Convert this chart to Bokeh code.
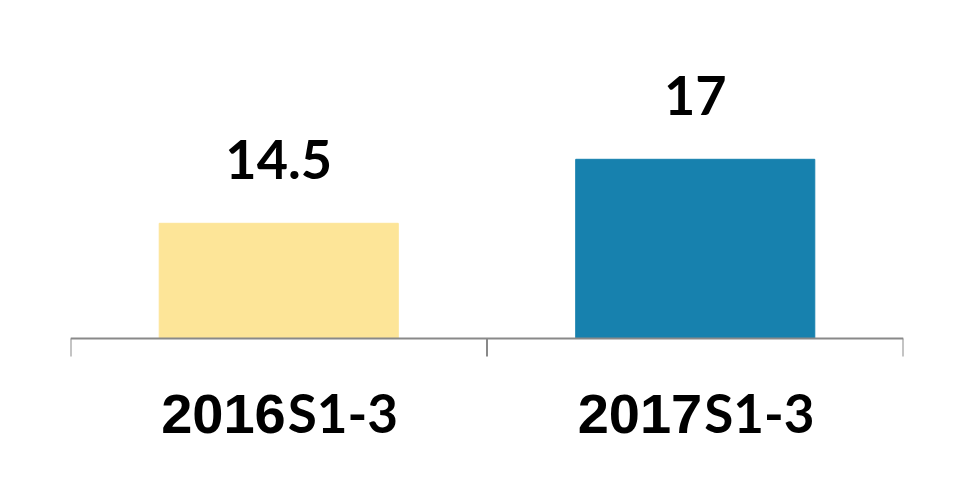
from bokeh.plotting import figure
from bokeh.models import ColumnDataSource, LabelSet, Range1d, Span
from bokeh.core.properties import value
from bokeh.embed import file_html
from bokeh.resources import INLINE

years = ["2016", "2017"]
suffixes = ["S1-3", "S1-3"]
values = [14.5, 17]
value_labels = ["14.5", "17"]
colors = ["#FDE598", "#1781AE"]

y_start = 10
px_per_unit = 25.6
above_px = 338   # frame pixels above the baseline
below_px = 130   # frame pixels below the baseline
tick_len = 18

xs = [i + 0.5 for i in range(len(years))]
src = ColumnDataSource(dict(x=xs, top=values, year=years, suf=suffixes,
                            vl=value_labels, color=colors,
                            base=[y_start] * len(years)))
tick_x = list(range(len(years) + 1))
tsrc = ColumnDataSource(dict(x=tick_x, y0=[y_start] * len(tick_x),
                             y1=[y_start - tick_len / px_per_unit] * len(tick_x)))

p = figure(width=962, height=468, output_backend="svg", toolbar_location=None,
           x_range=Range1d(0, len(years)),
           y_range=Range1d(y_start - below_px / px_per_unit,
                           y_start + above_px / px_per_unit),
           min_border_left=70, min_border_right=59, min_border_top=0,
           min_border_bottom=0, x_axis_location=None, y_axis_location=None)
p.outline_line_color = None
p.grid.visible = False
p.background_fill_color = "white"
p.border_fill_color = "white"

p.vbar(x="x", top="top", bottom="base", width=0.574, color="color", source=src)

# category axis: baseline and boundary ticks
p.add_layout(Span(location=y_start, dimension="width", line_color="#898989",
                  line_width=2))
p.segment(x0="x", y0="y0", x1="x", y1="y1", source=tsrc,
          line_color="#898989", line_width=2)

p.add_layout(LabelSet(x="x", y="top", text="vl", source=src, y_offset=44,
                      text_align="center", text_baseline="alphabetic",
                      text_font=value("Lato"), text_font_style="bold",
                      text_font_size="54px", text_color="black"))
p.add_layout(LabelSet(x="x", y="base", text="year", source=src, y_offset=-94,
                      x_offset=7, text_align="right", text_baseline="alphabetic",
                      text_font=value("Liberation Sans"), text_font_style="bold",
                      text_font_size="56px", text_color="black"))
p.add_layout(LabelSet(x="x", y="base", text="suf", source=src, y_offset=-94,
                      x_offset=9, text_align="left", text_baseline="alphabetic",
                      text_font=value("Lato"), text_font_style="bold",
                      text_font_size="53px", text_color="black"))

open("out.html", "w").write(file_html(p, INLINE))
